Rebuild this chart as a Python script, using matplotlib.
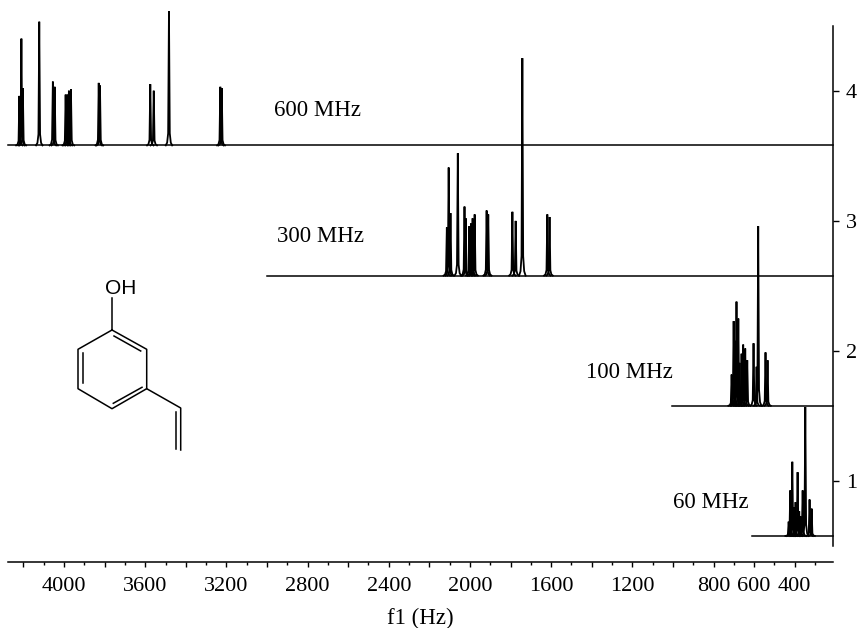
import matplotlib
matplotlib.use('Agg')
import matplotlib.pyplot as plt
import numpy as np

plt.rcParams['font.family'] = ['Liberation Serif', 'DejaVu Serif']

# peak position (Hz) and top of peak (y axis units)
hz_600 = [4220, 4210, 4203, 4122, 4055, 4046, 3992, 3984, 3976, 3966, 3829, 3823, 3575, 3558, 3483, 3230, 3223]
top_600 = [3.96, 4.40, 4.02, 4.53, 4.07, 4.03, 3.97, 3.97, 4.00, 4.01, 4.06, 4.04, 4.05, 4.00, 4.61, 4.03, 4.02]

hz_300 = [2114, 2105, 2096, 2060, 2027, 2021, 2003, 1995, 1987, 1977, 1918, 1910, 1791, 1775, 1742, 1619, 1608]
top_300 = [2.95, 3.41, 3.06, 3.52, 3.11, 3.02, 2.96, 2.98, 3.02, 3.05, 3.08, 3.05, 3.07, 3.00, 4.25, 3.05, 3.03]

hz_100 = [711, 701, 695, 687, 678, 672, 662, 654, 644, 634, 603, 588, 580, 544, 534]
top_100 = [1.82, 2.23, 2.08, 2.38, 2.25, 1.91, 1.98, 2.05, 2.02, 1.93, 2.06, 1.88, 2.96, 1.99, 1.93]

hz_60 = [430, 422, 412, 404, 396, 386, 378, 370, 361, 348, 327, 317]
top_60 = [0.69, 0.93, 1.15, 0.80, 0.84, 1.07, 0.77, 0.73, 0.93, 1.57, 0.86, 0.79]

# baseline level and where each trace starts / ends (Hz)
base_levels = [3.58, 2.58, 1.58, 0.58]
trace_start = [4276, 3000, 1005, 610]
trace_end = 214
field_names = ['600 MHz', '300 MHz', '100 MHz', '60 MHz']

x_ticks = list(range(4200, 399, -200))
x_minor = list(range(4100, 299, -200))
x_named = [4000, 3600, 3200, 2800, 2400, 2000, 1600, 1200, 800, 600, 400]
y_ticks = [1, 2, 3, 4]

W, H = 859, 628
fig = plt.figure(figsize=(W / 100, H / 100), dpi=100)

# axes box in pixels of the picture
left, right, top, bottom = 8, 832.5, 25.6, 562
ax = fig.add_axes([left / W, 1 - bottom / H, (right - left) / W, (bottom - top) / H])
ax.set_xlim(4276, 214)
ax.set_ylim(0.38, 4.5)

# peak shape: narrow stem with a small flare at the foot
foot_dx = [-16, -9, -4, 0, 4, 9, 16]
foot_dy = [0, 0.02, 0.09, 1, 0.09, 0.02, 0]

all_hz = [hz_600, hz_300, hz_100, hz_60]
all_top = [top_600, top_300, top_100, top_60]
for hz, tops, base, start in zip(all_hz, all_top, base_levels, trace_start):
    ax.plot([start, trace_end], [base, base], color='k', lw=1.1, clip_on=False)
    for p, t in zip(hz, tops):
        xs = np.array(foot_dx) + p
        ys = base + np.array(foot_dy) * (t - base)
        ax.plot(xs, ys, color='k', lw=1.3, clip_on=False, solid_joinstyle='miter')

# axes
for s in ['top', 'left']:
    ax.spines[s].set_visible(False)
ax.spines['right'].set_bounds(0.5, 4.5)
ax.spines['right'].set_linewidth(1.1)
ax.spines['bottom'].set_linewidth(1.1)
ax.yaxis.tick_right()
ax.set_yticks(y_ticks)
ax.tick_params(axis='y', length=4, width=1.0, labelsize=16, pad=5.5)
ax.set_xticks(x_ticks)
ax.set_xticklabels([str(v) if v in x_named else '' for v in x_ticks])
ax.set_xticks(x_minor, minor=True)
ax.tick_params(axis='x', which='major', length=3.5, width=1.0, labelsize=16, pad=7.5)
ax.tick_params(axis='x', which='minor', length=2, width=1.0)
ax.set_xlabel('f1 (Hz)', fontsize=16.5, labelpad=8.5)
ax.patch.set_alpha(0)

# overlay in pixel coordinates for the text labels and the molecule
ov = fig.add_axes([0, 0, 1, 1])
ov.set_xlim(0, W)
ov.set_ylim(H, 0)
ov.axis('off')
label_pos = [(274, 110), (277, 237), (586, 372), (673, 502)]
for name, (px, py) in zip(field_names, label_pos):
    ov.text(px, py, name, fontsize=16.5, ha='left', va='center')

# 3-vinylphenol
bonds = [
    [(112, 298), (112, 330)],
    [(112, 330), (146.7, 349.3), (146.7, 388.7), (112, 408.7), (78, 388.7), (78, 349.3), (112, 330)],
    [(114, 336), (140.7, 351)],
    [(82.7, 353.3), (82.7, 383.3)],
    [(113.3, 403.3), (142, 387.3)],
    [(146.7, 388.7), (180.7, 408), (180.7, 450)],
    [(176, 412), (176, 449)],
]
for b in bonds:
    ov.plot([q[0] for q in b], [q[1] for q in b], color='k', lw=1.1)
ov.text(120.7, 288, 'OH', fontsize=15, family='Liberation Sans', ha='center', va='center')

fig.savefig('out.png', dpi=100)
